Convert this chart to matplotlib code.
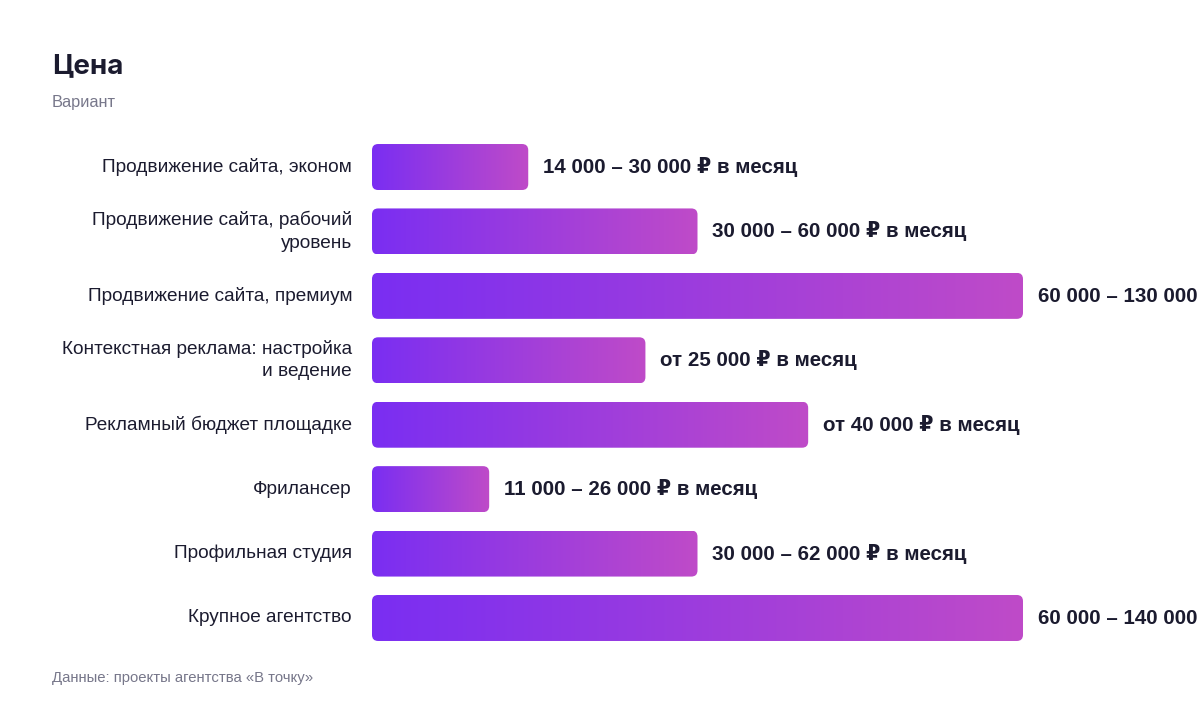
import numpy as np
import matplotlib.pyplot as plt
from matplotlib.patches import FancyBboxPatch

plt.rcParams['font.family'] = ['Liberation Sans', 'DejaVu Sans']

# Data
categories = [
    "Продвижение сайта, эконом",
    "Продвижение сайта, рабочий\nуровень",
    "Продвижение сайта, премиум",
    "Контекстная реклама: настройка\nи ведение",
    "Рекламный бюджет площадке",
    "Фрилансер",
    "Профильная студия",
    "Крупное агентство",
]
values = [24, 50, 100, 42, 67, 18, 50, 100]
value_labels = [
    "14 000 – 30 000 ₽ в месяц",
    "30 000 – 60 000 ₽ в месяц",
    "60 000 – 130 000 ₽ в месяц",
    "от 25 000 ₽ в месяц",
    "от 40 000 ₽ в месяц",
    "11 000 – 26 000 ₽ в месяц",
    "30 000 – 62 000 ₽ в месяц",
    "60 000 – 140 000 ₽ в месяц",
]

W, H = 1200, 712
fig = plt.figure(figsize=(W / 100, H / 100), dpi=100)
fig.patch.set_facecolor('white')

# axes placed in pixel terms
ax_left, ax_right = 372, 1200
ax_top, ax_bottom = 134.8, 650.2
ax = fig.add_axes([ax_left / W, 1 - ax_bottom / H, (ax_right - ax_left) / W, (ax_bottom - ax_top) / H])
px_per_unit = 6.51
xmax = (ax_right - ax_left) / px_per_unit
ax.axis('off')

px_per_row = (ax_bottom - ax_top) / len(categories)
bar_h = 46 / px_per_row
c0 = np.array([0x7a, 0x2e, 0xf2]) / 255
c1 = np.array([0xbf, 0x4b, 0xc8]) / 255
grad = np.linspace(0, 1, 256)
grad_img = (c0[None, :] * (1 - grad[:, None]) + c1[None, :] * grad[:, None])[None, :, :]

text_col = '#1b1b2f'
for i, (cat, v, lab) in enumerate(zip(categories, values, value_labels)):
    patch = FancyBboxPatch((0, i - bar_h / 2), v, bar_h,
                           boxstyle="round,pad=0,rounding_size=0.95",
                           mutation_aspect=px_per_unit / px_per_row,
                           facecolor='none', edgecolor='none')
    ax.add_patch(patch)
    im = ax.imshow(grad_img, extent=(0, v, i + bar_h / 2, i - bar_h / 2),
                   aspect='auto', interpolation='bilinear', zorder=2)
    im.set_clip_path(patch)
    ax.text(v + 15 / px_per_unit, i, lab, ha='left', va='center',
            fontsize=14.8, fontweight='bold', color=text_col, clip_on=False)
    ax.text(-20 / px_per_unit, i, cat, ha='right', va='center',
            fontsize=13.7, color=text_col, linespacing=1.4, clip_on=False)

ax.set_xlim(0, xmax)
ax.set_ylim(len(categories) - 0.5, -0.5)

fig.text(52 / W, 1 - 66 / H, "Цена", fontsize=20, fontweight='bold',
         color=text_col, ha='left', va='center', family=['Inter', 'DejaVu Sans'])
fig.text(52 / W, 1 - 103 / H, "Вариант", fontsize=11.8, color='#77778a',
         ha='left', va='center')
fig.text(52 / W, 1 - 678 / H, "Данные: проекты агентства «В точку»", fontsize=10.7,
         color='#77778a', ha='left', va='center')

fig.savefig('out.png', dpi=100)
